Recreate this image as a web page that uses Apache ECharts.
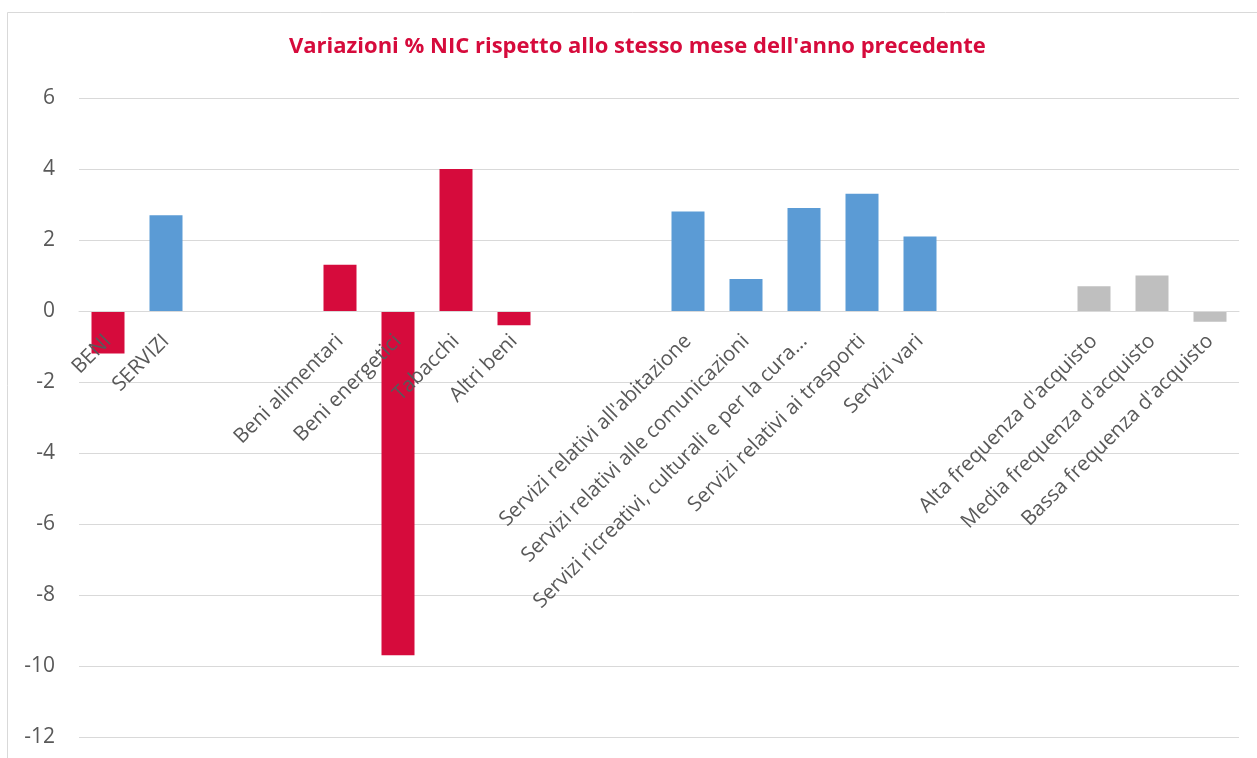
<!DOCTYPE html>
<html>
<head>
<meta charset="utf-8">
<script src="https://cdn.jsdelivr.net/npm/echarts@6/dist/echarts.min.js"></script>
<style>html,body{margin:0;padding:0;background:#fff}#c{width:1257px;height:758px}</style>
</head>
<body>
<div id="c"></div>
<script>
var titleText = "Variazioni % NIC rispetto allo stesso mese dell'anno precedente";
var categories = ['BENI', 'SERVIZI', ' ', '  ', 'Beni alimentari', 'Beni energetici', 'Tabacchi', 'Altri beni', '   ', '    ',
  "Servizi relativi all'abitazione", 'Servizi relativi alle comunicazioni', 'Servizi ricreativi, culturali e per la cura...',
  'Servizi relativi ai trasporti', 'Servizi vari', '     ', '      ',
  "Alta frequenza d'acquisto", "Media frequenza d'acquisto", "Bassa frequenza d'acquisto"];
var values = [-1.2, 2.7, null, null, 1.3, -9.7, 4.0, -0.4, null, null, 2.8, 0.9, 2.9, 3.3, 2.1, null, null, 0.7, 1.0, -0.3];
var groups = ['r', 'b', '', '', 'r', 'r', 'r', 'r', '', '', 'b', 'b', 'b', 'b', 'b', '', '', 'g', 'g', 'g'];
var yTicks = [-12, -10, -8, -6, -4, -2, 0, 2, 4, 6];
var groupColors = {r: '#D60B3C', b: '#5B9BD5', g: '#BFBFBF', '': '#000'};

var chart = echarts.init(document.getElementById('c'), null, {renderer: 'canvas'});
var data = values.map(function (v, i) {
  return v === null ? '-' : {value: v, itemStyle: {color: groupColors[groups[i]]}};
});
var option = {
  animation: false,
  backgroundColor: '#fff',
  title: {
    text: titleText, left: 285, top: 32, padding: 4,
    textStyle: {color: '#D60B3C', fontSize: 22, fontWeight: 'bold', fontFamily: 'Open Sans'}
  },
  graphic: [{
    type: 'rect', shape: {x: 7.5, y: 12.5, width: 1300, height: 800},
    style: {fill: 'none', stroke: '#D9D9D9', lineWidth: 1}, silent: true, z: -1
  }],
  grid: {left: 79, right: 18, top: 98, bottom: 21, containLabel: false, outerBoundsMode: 'none'},
  xAxis: {
    type: 'category', data: categories, offset: 0, z: 10,
    axisLine: {show: true, onZero: false, lineStyle: {color: '#D9D9D9', width: 1}},
    axisTick: {show: false},
    axisLabel: {interval: 0, rotate: 45, margin: 27, color: '#595959', fontSize: 20.5, fontFamily: 'Open Sans'},
    splitLine: {show: false}
  },
  yAxis: {
    type: 'value', min: yTicks[0], max: yTicks[yTicks.length - 1], interval: 2,
    axisLine: {show: false}, axisTick: {show: false},
    axisLabel: {color: '#595959', fontSize: 21, fontFamily: 'Open Sans', margin: 24},
    splitLine: {lineStyle: {color: '#D9D9D9', width: 1}}
  },
  series: [{
    type: 'bar', data: data, barWidth: 33, z: 2
  }]
};
chart.setOption(option);
// move the category axis up to the zero line
var yZero = chart.convertToPixel({yAxisIndex: 0}, 0);
var yMin = chart.convertToPixel({yAxisIndex: 0}, yTicks[0]);
chart.setOption({xAxis: {offset: -(yMin - yZero)}});
</script>
</body>
</html>
